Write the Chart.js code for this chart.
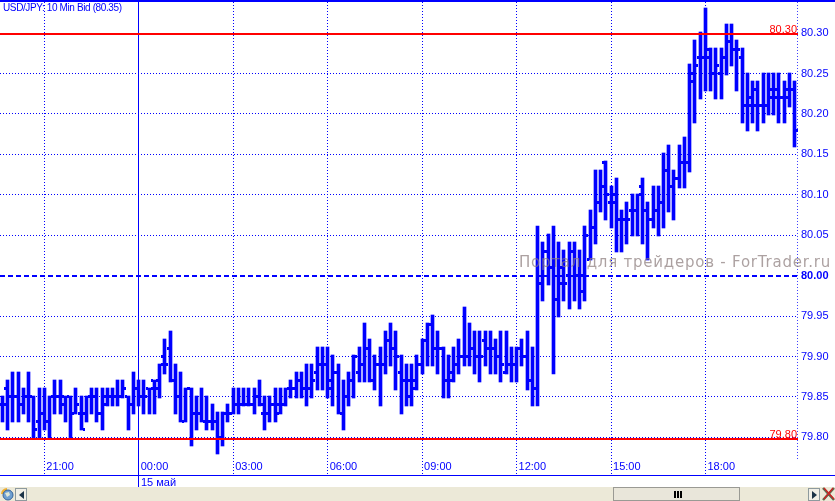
<!DOCTYPE html>
<html>
<head>
<meta charset="utf-8">
<title>USD/JPY</title>
<script src="https://cdn.jsdelivr.net/npm/chart.js@4"></script>
<style>
    html, body { margin: 0; padding: 0; background: #fff; overflow: hidden; }
    #sayfa { position: relative; width: 835px; height: 501px; overflow: hidden; font-family: "Liberation Sans", Arial, sans-serif; }
    #grafik { position: absolute; left: 0; top: 0; display: block; }
    .ustCizgi { position: absolute; left: 0; top: 0; width: 835px; height: 2px; background: #00f; }
    .yazi { position: absolute; color: #00f; font-size: 11px; line-height: 12px; white-space: nowrap; }
    #filigran { position: absolute; left: 519px; top: 252px; font-family: "DejaVu Sans", sans-serif; font-size: 15px; letter-spacing: 0.77px; line-height: 20px; color: rgba(140, 125, 125, 0.72); white-space: nowrap; }
    #kaydirma { position: absolute; left: 0; top: 487px; width: 835px; height: 14px; background: #ece9d8; }
    .dugme { position: absolute; top: 1px; width: 10px; height: 11px; border: 1px solid #8e9a9e; background: #f1efe6; }
    #tutamac { position: absolute; left: 613px; top: 0; width: 125px; height: 12px; border: 1px solid #9a9a94; background: #e9e6da; }
    #tutamac i { position: absolute; top: 3px; width: 2px; height: 7px; background: #000; }
    svg { position: absolute; }
</style>
</head>
<body>
<div id="sayfa">
    <canvas id="grafik" width="835" height="487"></canvas>
    <div class="ustCizgi"></div>
    <div class="yazi" style="left:3px;top:2px;font-size:10px;letter-spacing:-0.38px;">USD/JPY: 10 Min Bid (80.35)</div>
    <div class="yazi" style="left:141px;top:476px;">15 май</div>
    <div id="filigran">Портал для трейдеров - ForTrader.ru</div>
    <div id="kaydirma">
        <svg style="left:0;top:0" width="14" height="14" viewBox="0 0 14 14">
            <path d="M1 7 A6 6 0 0 1 7 1 L7 4 A3 3 0 0 0 4 7 Z" fill="#f0b030"/>
            <circle cx="8" cy="8" r="5" fill="#6f9fd0" stroke="#34639c"/>
            <path d="M5 6 L9 5 L10 8 L7 10 Z" fill="#dfe8d8"/>
        </svg>
        <div class="dugme" style="left:15px;">
            <svg style="left:3px;top:2px" width="5" height="8"><path d="M5 0 L0 4 L5 8 Z" fill="#1c3347"/></svg>
        </div>
        <div id="tutamac"><i style="left:60px"></i><i style="left:63px"></i><i style="left:66px"></i></div>
        <div class="dugme" style="left:808px;">
            <svg style="left:3px;top:2px" width="5" height="8"><path d="M0 0 L5 4 L0 8 Z" fill="#1c3347"/></svg>
        </div>
        <svg style="left:822px;top:0" width="13" height="14" viewBox="0 0 13 14">
            <path d="M1 1 L12 13 M12 1 L1 13" stroke="#5c6b50" stroke-width="2.5"/>
            <path d="M2 1 L12 12 M11 1 L2 12" stroke="#d02020" stroke-width="1.2"/>
        </svg>
    </div>
</div>

<script>
// Bar values, one entry per 10 minute bar
const barHigh = [
    79.85,79.87,79.88,79.88,79.86,79.88,79.85,79.86,79.86,79.85,79.87,79.87,79.85,79.85,79.86,79.85,79.85,79.86,79.86,79.86,
    79.86,79.86,79.87,79.87,79.85,79.88,79.87,79.87,79.86,79.87,79.89,79.92,79.93,79.89,79.88,79.86,79.86,79.85,79.86,79.85,
    79.84,79.83,79.83,79.84,79.86,79.86,79.86,79.86,79.86,79.87,79.85,79.85,79.86,79.86,79.86,79.87,79.88,79.88,79.89,79.89,
    79.91,79.91,79.91,79.90,79.89,79.87,79.88,79.90,79.91,79.94,79.92,79.90,79.91,79.93,79.94,79.93,79.90,79.89,79.89,79.90,
    79.92,79.94,79.95,79.93,79.91,79.90,79.91,79.92,79.96,79.94,79.93,79.93,79.93,79.93,79.92,79.93,79.93,79.91,79.91,79.92,79.93,79.91,
    80.06,80.04,80.05,80.06,80.04,80.03,80.04,80.04,80.03,80.06,80.08,80.13,80.13,80.14,80.11,80.12,80.08,80.09,80.10,80.10,
    80.12,80.09,80.11,80.11,80.15,80.16,80.13,80.16,80.17,80.26,80.29,80.30,80.33,80.28,80.28,80.28,80.31,80.31,80.29,80.28,80.25,80.24,80.24,80.25,80.25,80.25,80.25,80.24,80.25,80.24
];
const barLow = [
    79.82,79.81,79.82,79.82,79.83,79.82,79.80,79.80,79.81,79.80,79.83,79.83,79.82,79.80,79.83,79.81,79.82,79.83,79.82,79.81,
    79.84,79.84,79.84,79.85,79.81,79.83,79.84,79.83,79.83,79.83,79.85,79.88,79.87,79.83,79.82,79.82,79.79,79.81,79.82,79.81,
    79.81,79.78,79.79,79.82,79.83,79.83,79.84,79.84,79.83,79.84,79.81,79.82,79.82,79.83,79.84,79.85,79.85,79.85,79.84,79.85,
    79.86,79.86,79.85,79.84,79.83,79.81,79.84,79.85,79.87,79.87,79.87,79.86,79.84,79.88,79.89,79.86,79.83,79.84,79.84,79.86,
    79.88,79.89,79.89,79.88,79.85,79.85,79.87,79.88,79.89,79.89,79.88,79.87,79.89,79.88,79.88,79.87,79.88,79.87,79.87,79.89,79.86,79.84,
    79.84,79.97,79.99,79.88,79.95,79.97,79.96,79.97,79.96,79.97,80.02,80.04,80.08,80.07,80.06,80.03,80.03,80.04,80.05,80.05,
    80.04,80.02,80.06,80.05,80.06,80.08,80.07,80.11,80.11,80.13,80.19,80.22,80.23,80.23,80.22,80.22,80.25,80.26,80.23,80.19,80.18,80.19,80.18,80.19,80.20,80.20,80.19,80.19,80.21,80.16
];
const barOpen = [
    79.84,79.86,79.85,79.85,79.84,79.85,79.85,79.82,79.83,79.82,79.85,79.85,79.84,79.85,79.83,79.83,79.83,79.85,79.85,79.83,
    79.85,79.85,79.85,79.85,79.85,79.84,79.86,79.85,79.86,79.87,79.86,79.90,79.91,79.87,79.85,79.82,79.86,79.83,79.83,79.82,
    79.82,79.82,79.80,79.83,79.83,79.84,79.84,79.84,79.84,79.85,79.83,79.83,79.84,79.83,79.84,79.86,79.86,79.87,79.86,79.86,
    79.88,79.89,79.89,79.87,79.88,79.83,79.85,79.87,79.88,79.89,79.91,79.87,79.89,79.89,79.92,79.91,79.88,79.87,79.87,79.86,
    79.89,79.92,79.94,79.91,79.91,79.87,79.87,79.89,79.90,79.90,79.91,79.90,79.92,79.91,79.91,79.90,79.88,79.89,79.89,79.91,79.90,79.87,
    79.86,79.99,80.03,80.01,79.97,79.99,80.00,80.03,80.00,79.98,80.02,80.06,80.09,80.14,80.09,80.09,80.07,80.07,80.08,80.08,
    80.11,80.08,80.07,80.08,80.09,80.13,80.11,80.12,80.14,80.14,80.25,80.27,80.27,80.28,80.25,80.25,80.27,80.29,80.28,80.27,80.21,80.22,80.23,80.21,80.21,80.23,80.22,80.22,80.22,80.23
];
const barClose = [
    79.84,79.85,79.85,79.84,79.85,79.85,79.81,79.83,79.82,79.85,79.85,79.85,79.85,79.83,79.84,79.81,79.85,79.85,79.83,79.84,
    79.85,79.85,79.85,79.86,79.84,79.86,79.85,79.85,79.86,79.87,79.89,79.89,79.87,79.85,79.82,79.86,79.83,79.83,79.82,79.82,
    79.82,79.80,79.83,79.83,79.84,79.84,79.84,79.84,79.85,79.84,79.83,79.84,79.84,79.84,79.86,79.86,79.87,79.86,79.86,79.87,
    79.89,79.89,79.86,79.88,79.83,79.85,79.87,79.90,79.89,79.91,79.87,79.89,79.89,79.92,79.91,79.90,79.87,79.85,79.87,79.89,
    79.92,79.94,79.91,79.91,79.87,79.88,79.89,79.90,79.90,79.91,79.90,79.90,79.91,79.91,79.90,79.89,79.89,79.89,79.91,79.90,79.87,79.86,
    79.99,80.03,80.01,79.97,80.01,79.99,80.03,80.00,80.00,80.05,80.06,80.09,80.11,80.10,80.10,80.07,80.07,80.07,80.08,80.10,
    80.08,80.07,80.08,80.09,80.13,80.11,80.12,80.14,80.14,80.24,80.26,80.27,80.27,80.25,80.26,80.27,80.29,80.28,80.28,80.21,80.21,80.21,80.21,80.21,80.22,80.23,80.22,80.23,80.23,80.18
];

// Axis ticks: bar index of every three hour mark, and the price levels
const timeTickIndex = [8, 26, 44, 62, 80, 98, 116, 134];
const timeTickLabels = ['21:00', '00:00', '03:00', '06:00', '09:00', '12:00', '15:00', '18:00'];
const priceTicks = [79.80, 79.85, 79.90, 79.95, 80.00, 80.05, 80.10, 80.15, 80.20, 80.25, 80.30];

// Horizontal levels drawn over the bars, the red ones sit just under their grid line
const upperLevel = 80.2989;
const lowerLevel = 79.7979;
const upperLevelLabel = '80.30';
const lowerLevelLabel = '79.80';

const MAVI = '#0000ff';
const KIRMIZI = '#ff0000';
const GUN_BASI = 26;   // bar index of the solid day line
const xMin = -0.438, xMax = 151.63;
const yMin = 79.7534, yMax = 80.3385;

// O and C ticks: 3 px high, sticking 2 px out of the 3 px bar
function tikResmi(solaDogru) {
    const c = document.createElement('canvas');
    c.width = 7;
    c.height = 3;
    const ctx = c.getContext('2d');
    ctx.fillStyle = MAVI;
    ctx.fillRect(solaDogru ? 0 : 5, 0, 2, 3);
    return c;
}

// Snap bars and ticks to whole pixels, the original is not antialiased
const pikselHizala = {
    id: 'pikselHizala',
    beforeDatasetsDraw(chart) {
        chart.data.datasets.forEach((ds, i) => {
            if (!ds.hizala) return;
            chart.getDatasetMeta(i).data.forEach(el => {
                el.x = Math.floor(el.x) + 0.5;
                if (ds.type === 'bar') {
                    el.y = Math.round(el.y) - 1;
                    el.base = Math.round(el.base) + 1;
                } else {
                    el.y = Math.floor(el.y) + 0.5;
                }
            });
        });
    }
};

// Small red labels on top of the level lines
const seviyeYazilari = {
    id: 'seviyeYazilari',
    afterDatasetsDraw(chart) {
        const { ctx, scales } = chart;
        ctx.save();
        ctx.font = '11px "Liberation Sans"';
        ctx.fillStyle = KIRMIZI;
        ctx.textAlign = 'right';
        ctx.textBaseline = 'bottom';
        ctx.fillText(upperLevelLabel, scales.x.right - 1, scales.y.getPixelForValue(upperLevel) + 1);
        ctx.fillText(lowerLevelLabel, scales.x.right - 1, scales.y.getPixelForValue(lowerLevel) + 1);
        ctx.restore();
    },
    // x axis line runs under the price labels too
    afterDraw(chart) {
        chart.ctx.fillStyle = MAVI;
        chart.ctx.fillRect(0, chart.scales.x.top, 835, 1);
    }
};

function yatayCizgi(seviye) {
    return {
        type: 'line',
        order: 0,
        data: [{ x: xMin, y: seviye }, { x: xMax, y: seviye }],
        borderColor: KIRMIZI,
        borderWidth: 2,
        pointRadius: 0
    };
}

new Chart(document.getElementById('grafik').getContext('2d'), {
    type: 'bar',
    data: {
        datasets: [
            yatayCizgi(upperLevel),
            yatayCizgi(lowerLevel),
            {
                type: 'bar',
                order: 2,
                hizala: true,
                data: barHigh.map((h, i) => ({ x: i, y: [barLow[i], h] })),
                backgroundColor: MAVI,
                barThickness: 3,
                grouped: false
            },
            {
                type: 'line',
                order: 1,
                hizala: true,
                showLine: false,
                data: barOpen.map((v, i) => ({ x: i, y: v })),
                pointStyle: tikResmi(true),
                pointRadius: 3
            },
            {
                type: 'line',
                order: 1,
                hizala: true,
                showLine: false,
                data: barClose.map((v, i) => ({ x: i, y: v })),
                pointStyle: tikResmi(false),
                pointRadius: 3
            },
            {
                // dotted edge of the plot next to the price axis
                type: 'line',
                order: 3,
                data: [{ x: xMax - 0.05, y: 79.7732 }, { x: xMax - 0.05, y: yMax }],
                borderColor: MAVI,
                borderWidth: 1,
                borderDash: [1, 2],
                pointRadius: 0
            }
        ]
    },
    options: {
        responsive: false,
        animation: false,
        events: [],
        layout: { autoPadding: false, padding: { top: 2, left: 0, right: 0, bottom: 0 } },
        plugins: {
            legend: { display: false },
            tooltip: { enabled: false }
        },
        scales: {
            x: {
                type: 'linear',
                offset: false,
                min: xMin,
                max: xMax,
                afterBuildTicks: scale => {
                    scale.ticks = timeTickIndex.map(v => ({ value: v }));
                },
                afterFit: scale => {
                    scale.height = 12;
                    scale.paddingLeft = 0;
                    scale.paddingRight = 0;
                },
                grid: {
                    offset: false,
                    color: MAVI,
                    lineWidth: 1,
                    tickLength: 12,
                    tickColor: ctx => (ctx.tick && ctx.tick.value === GUN_BASI) ? MAVI : 'rgba(0,0,0,0)'
                },
                border: {
                    display: true,
                    color: MAVI,
                    dash: ctx => (ctx.tick && ctx.tick.value === GUN_BASI) ? [] : [1, 2]
                },
                ticks: {
                    color: MAVI,
                    autoSkip: false,
                    maxRotation: 0,
                    mirror: true,
                    align: 'start',
                    labelOffset: 2,
                    padding: 1,
                    font: { family: '"Liberation Sans"', size: 11 },
                    callback: value => timeTickLabels[timeTickIndex.indexOf(value)]
                }
            },
            y: {
                position: 'right',
                min: yMin,
                max: yMax,
                afterBuildTicks: scale => {
                    scale.ticks = priceTicks.map(v => ({ value: v }));
                },
                afterFit: scale => {
                    scale.width = 37;
                    scale.paddingTop = 0;
                    scale.paddingBottom = 0;
                },
                grid: {
                    drawTicks: false,
                    color: MAVI,
                    lineWidth: ctx => (ctx.tick && ctx.tick.value === 80) ? 2 : 1
                },
                border: {
                    display: false,
                    dash: ctx => (ctx.tick && ctx.tick.value === 80) ? [5, 3] : [1, 2]
                },
                ticks: {
                    color: MAVI,
                    padding: 3,
                    font: ctx => ({
                        family: '"Liberation Sans"',
                        size: 11,
                        weight: (ctx.tick && ctx.tick.value === 80) ? 'bold' : 'normal'
                    }),
                    callback: value => value.toFixed(2)
                }
            }
        }
    },
    plugins: [pikselHizala, seviyeYazilari]
});
</script>
</body>
</html>
